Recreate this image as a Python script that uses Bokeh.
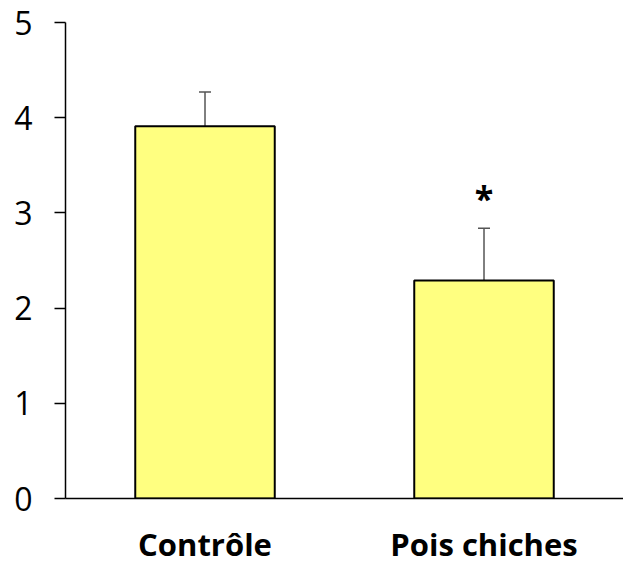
from bokeh.plotting import figure
from bokeh.models import ColumnDataSource, Whisker, TeeHead, FactorRange, Range1d, FixedTicker
from bokeh.core.properties import value
from bokeh.embed import file_html
from bokeh.resources import INLINE

categories = ["Contrôle", "Pois chiches"]
means = [3.91, 2.29]
errors = [0.36, 0.55]
marks = ["", "*"]
y_ticks = [0, 1, 2, 3, 4, 5]

upper = [m + e for m, e in zip(means, errors)]
star_y = [u + 0.32 for u in upper]
src = ColumnDataSource(dict(x=categories, top=means, lower=means, upper=upper, star_y=star_y, mark=marks))

p = figure(x_range=FactorRange(factors=categories, range_padding=0), y_range=Range1d(0, 5),
           width=623, height=564, output_backend="svg", toolbar_location=None,
           min_border_left=65, min_border_right=0, min_border_top=22, min_border_bottom=66)
p.frame_width = 558
p.frame_height = 476

p.vbar(x="x", top="top", width=0.5, source=src, fill_color="#FFFF80", line_color="black", line_width=2)
w = Whisker(source=src, base="x", lower="lower", upper="upper", line_color="black", line_width=1,
            lower_head=None, upper_head=TeeHead(size=12, line_color="#555555", line_width=1.5))
p.add_layout(w)
p.text(x="x", y="star_y", text="mark", source=src, text_align="center", text_baseline="middle",
       text_font=value("Open Sans"), text_font_size="34px", text_font_style="bold", text_color="black")

p.outline_line_color = None
p.grid.grid_line_color = None
p.background_fill_color = "white"
p.border_fill_color = "white"

p.yaxis.ticker = FixedTicker(ticks=y_ticks)
p.yaxis.minor_tick_line_color = None
p.yaxis.major_tick_out = 11
p.yaxis.major_tick_in = 0
p.yaxis.major_label_standoff = 22
p.yaxis.major_label_text_font = "Open Sans"
p.yaxis.major_label_text_font_size = "32px"
p.yaxis.major_label_text_color = "black"
p.yaxis.axis_line_color = "black"
p.yaxis.axis_line_width = 1.5
p.yaxis.major_tick_line_color = "black"
p.yaxis.major_tick_line_width = 1.5

p.xaxis.major_tick_line_color = None
p.xaxis.minor_tick_line_color = None
p.xaxis.major_tick_out = 0
p.xaxis.major_label_standoff = 24
p.xaxis.major_label_text_font = "Open Sans"
p.xaxis.major_label_text_font_style = "bold"
p.xaxis.major_label_text_font_size = "31px"
p.xaxis.major_label_text_color = "black"
p.xaxis.axis_line_color = "black"
p.xaxis.axis_line_width = 1.5

open("out.html", "w").write(file_html(p, INLINE))
